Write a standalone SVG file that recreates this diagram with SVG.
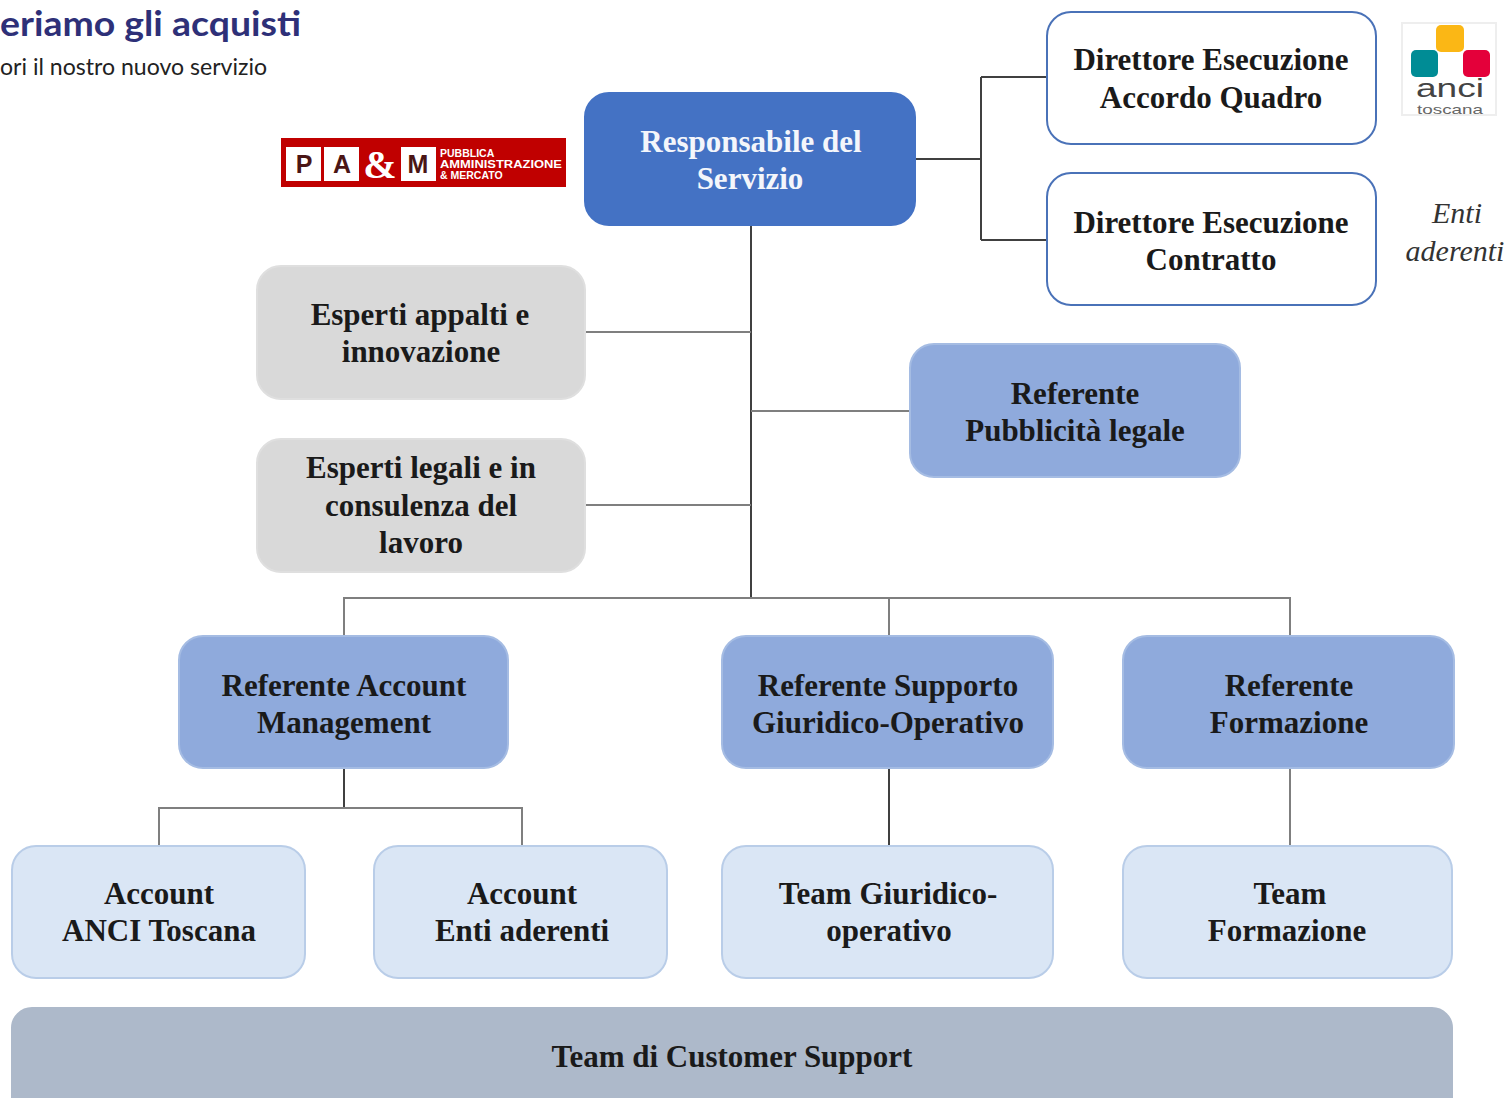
<svg xmlns="http://www.w3.org/2000/svg" width="1510" height="1098" viewBox="0 0 1510 1098">
<style>
.t{font-family:"Liberation Serif","Times New Roman",serif;font-size:31px;font-weight:700;text-anchor:middle;fill:#1a1a1a}
.w{fill:#f4f6fb}
.box{stroke-width:2}
.white{fill:#fff;stroke:#4a72b8}
.blue{fill:#4472c4;stroke:#4472c4}
.mid{fill:#8faadc;stroke:#a5bce3}
.grey{fill:#d9d9d9;stroke:#dfdfdf}
.pale{fill:#dae6f5;stroke:#b9cde8}
.slate{fill:#adb9ca;stroke:#adb9ca}
.c{fill:none;stroke:#404040;stroke-width:2}
.c2{fill:none;stroke:#7f7f7f;stroke-width:2}
</style>
<rect width="1510" height="1098" fill="#fff"/>
<g id="header">
<text x="0" y="36" font-family="Lato,'Liberation Sans',sans-serif" font-size="34" font-weight="700" fill="#2e3078" textLength="301" lengthAdjust="spacingAndGlyphs">eriamo gli acquisti</text>
<text x="0" y="75" font-family="Lato,'Liberation Sans',sans-serif" font-size="23" fill="#222" textLength="267" lengthAdjust="spacingAndGlyphs">ori il nostro nuovo servizio</text>
</g>
<g id="logo-pam">
<rect x="281" y="138" width="285" height="49" fill="#c00000"/>
<rect x="286" y="147" width="35" height="34" fill="#fff"/><rect x="324" y="147" width="35" height="34" fill="#fff"/><rect x="401" y="147" width="35" height="34" fill="#fff"/>
<g font-family="'Liberation Sans',sans-serif" font-weight="700" font-size="25" text-anchor="middle" fill="#4a1515"><text x="304" y="173">P</text><text x="342" y="173">A</text><text x="418" y="173">M</text></g>
<text x="380" y="178" font-family="'Liberation Serif',serif" font-weight="700" font-size="40" text-anchor="middle" fill="#fff">&amp;</text>
<g font-family="'Liberation Sans',sans-serif" font-weight="700" font-size="10.5" fill="#fff"><text x="440" y="157">PUBBLICA</text><text x="440" y="167.500" textLength="122" lengthAdjust="spacingAndGlyphs">AMMINISTRAZIONE</text><text x="440" y="179">&amp; MERCATO</text></g>
</g>
<g id="logo-anci">
<rect x="1402" y="23" width="94" height="92" fill="#fff" stroke="#eeeeee" stroke-width="2"/>
<rect x="1436" y="25" width="28" height="27" rx="5" fill="#fbb715"/>
<rect x="1411" y="50" width="27" height="27" rx="5" fill="#008c95"/>
<rect x="1463" y="50" width="27" height="27" rx="5" fill="#e4003a"/>
<text x="1450" y="97" font-family="'Liberation Sans',sans-serif" font-size="26" fill="#444" text-anchor="middle" textLength="68" lengthAdjust="spacingAndGlyphs">anci</text>
<text x="1450" y="114" font-family="'Liberation Sans',sans-serif" font-size="13" fill="#666" text-anchor="middle" textLength="66" lengthAdjust="spacingAndGlyphs">toscana</text>
</g>
<g id="enti-label" font-family="'Liberation Serif',serif" font-style="italic" font-size="30" fill="#333" text-anchor="middle">
<text x="1457" y="223">Enti</text><text x="1455" y="261">aderenti</text>
</g>
<g id="connectors">
<path class="c" d="M916 159H981M981 77H1047M981 240H1047M981 77V240"/>
<path class="c" d="M751 225V598"/>
<path class="c2" d="M585 332H751M751 411H910M585 505H751"/>
<path class="c2" d="M344 636V598H1290V636M889 598V636"/>
<path class="c" d="M344 768V808M889 768V846"/>
<path class="c2" d="M159 846V808H522V846M1290 768V846"/>
</g>
<g id="n1"><rect class="box blue" x="585" y="93" width="330" height="132" rx="24"/><text class="t w" x="751" y="152">Responsabile del</text><text class="t w" x="750" y="189">Servizio</text></g>
<g id="n2"><rect class="box white" x="1047" y="12" width="329" height="132" rx="24"/><text class="t" x="1211" y="70">Direttore Esecuzione</text><text class="t" x="1211" y="108">Accordo Quadro</text></g>
<g id="n3"><rect class="box white" x="1047" y="173" width="329" height="132" rx="24"/><text class="t" x="1211" y="233">Direttore Esecuzione</text><text class="t" x="1211" y="270">Contratto</text></g>
<g id="n4"><rect class="box grey" x="257" y="266" width="328" height="133" rx="24"/><text class="t" x="420" y="325">Esperti appalti e</text><text class="t" x="421" y="362">innovazione</text></g>
<g id="n5"><rect class="box mid" x="910" y="344" width="330" height="133" rx="24"/><text class="t" x="1075" y="404">Referente</text><text class="t" x="1075" y="441">Pubblicità legale</text></g>
<g id="n6"><rect class="box grey" x="257" y="439" width="328" height="133" rx="24"/><text class="t" x="421" y="478">Esperti legali e in</text><text class="t" x="421" y="516">consulenza del</text><text class="t" x="421" y="553">lavoro</text></g>
<g id="n7"><rect class="box mid" x="179" y="636" width="329" height="132" rx="24"/><text class="t" x="344" y="696">Referente Account</text><text class="t" x="344" y="733">Management</text></g>
<g id="n8"><rect class="box mid" x="722" y="636" width="331" height="132" rx="24"/><text class="t" x="888" y="696">Referente Supporto</text><text class="t" x="888" y="733">Giuridico-Operativo</text></g>
<g id="n9"><rect class="box mid" x="1123" y="636" width="331" height="132" rx="24"/><text class="t" x="1289" y="696">Referente</text><text class="t" x="1289" y="733">Formazione</text></g>
<g id="n10"><rect class="box pale" x="12" y="846" width="293" height="132" rx="24"/><text class="t" x="159" y="904">Account</text><text class="t" x="159" y="941">ANCI Toscana</text></g>
<g id="n11"><rect class="box pale" x="374" y="846" width="293" height="132" rx="24"/><text class="t" x="522" y="904">Account</text><text class="t" x="522" y="941">Enti aderenti</text></g>
<g id="n12"><rect class="box pale" x="722" y="846" width="331" height="132" rx="24"/><text class="t" x="888" y="904">Team Giuridico-</text><text class="t" x="889" y="941">operativo</text></g>
<g id="n13"><rect class="box pale" x="1123" y="846" width="329" height="132" rx="24"/><text class="t" x="1290" y="904">Team</text><text class="t" x="1287" y="941">Formazione</text></g>
<g id="n14"><rect class="box slate" x="12" y="1008" width="1440" height="120" rx="20"/><text class="t" x="732" y="1067">Team di Customer Support</text></g>
</svg>
